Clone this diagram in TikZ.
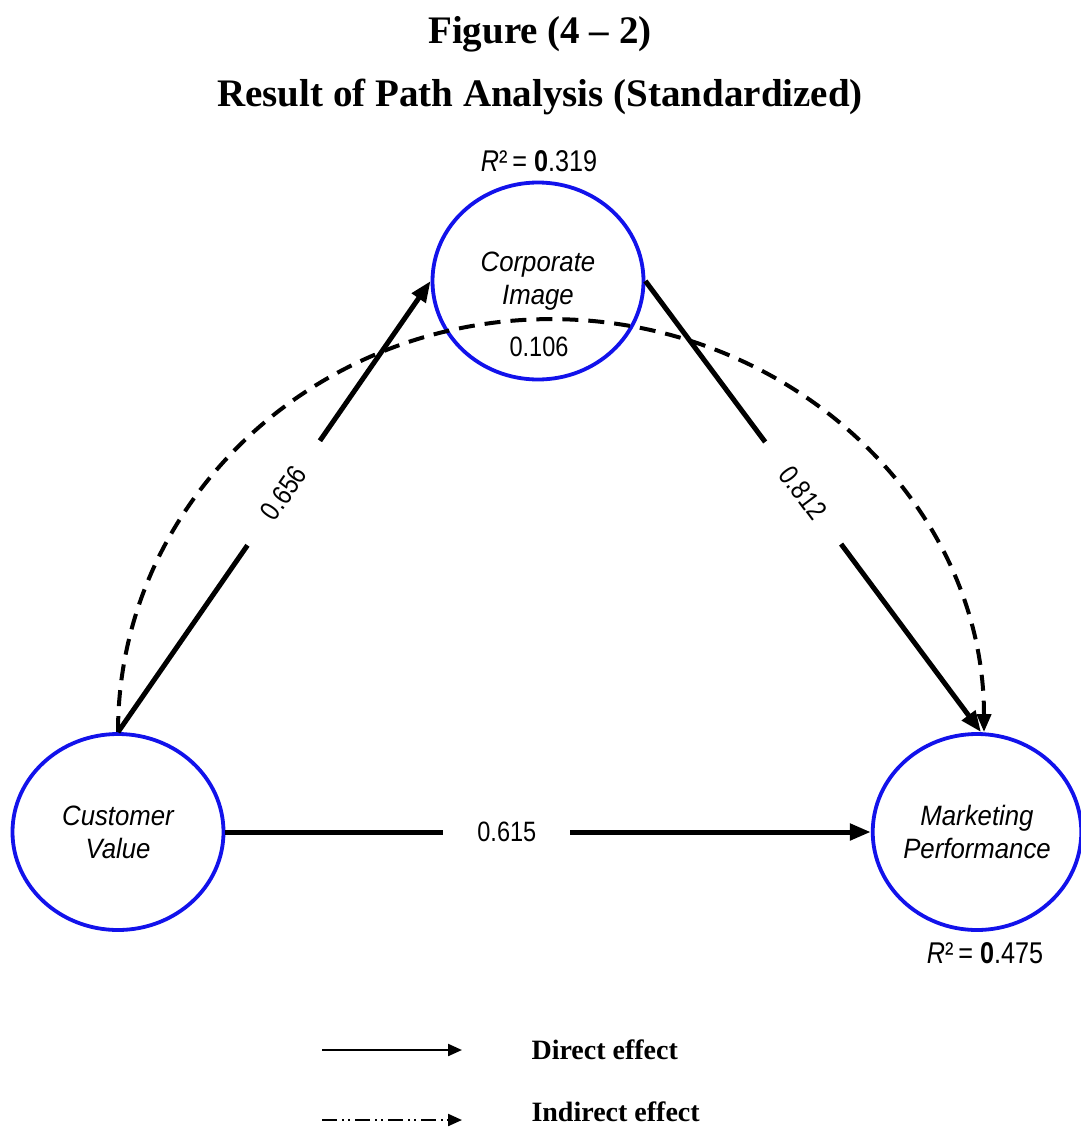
\documentclass[tikz,border=0pt]{standalone}
\usepackage{fontspec}
\setmainfont{Liberation Serif}
\newfontfamily\lblfont[FakeStretch=0.92]{Liberation Sans}
\newfontfamily\numfont[FakeStretch=0.84]{Liberation Sans}
\usetikzlibrary{shapes.geometric,arrows.meta}
\definecolor{ringblue}{RGB}{18,18,235}
\begin{document}
\begin{tikzpicture}[x=1pt,y=1pt,
  construct/.style={ellipse, draw=ringblue, line width=3.8pt, fill=white,
    inner sep=0pt, align=center,
    font=\lblfont\itshape\fontsize{28}{33}\selectfont},
  directarrow/.style={line width=5pt, -{Triangle[length=21pt,width=16pt]}},
  indirectarrow/.style={line width=4pt, dash pattern=on 16pt off 10pt,
    -{Triangle[length=18pt,width=14pt]}},
  coef/.style={fill=white, inner xsep=34pt, inner ysep=6pt, sloped,
    font=\numfont\fontsize{28}{30}\selectfont},
  plain/.style={font=\numfont\fontsize{28}{30}\selectfont},
  rsq/.style={font=\numfont\fontsize{30}{32}\selectfont},
  titletext/.style={font=\bfseries\fontsize{39}{42}\selectfont},
  legendtext/.style={anchor=west, font=\bfseries\fontsize{28}{32}\selectfont},
  legendline/.style={line width=2.2pt, -{Triangle[length=14pt,width=12pt]}}]

\useasboundingbox (0,0) rectangle (1080,-1127);
\fill[white] (0,0) rectangle (1080,-1127);

% titles
\node[titletext] (fig) at (540,-34) {Figure (4 -- 2)};
\node[titletext] (ttl) at (540,-97) {Result of Path Analysis (Standardized)};

% latent constructs
\node[construct, minimum width=211pt, minimum height=197pt] (ci) at (538,-281) {Corporate\\Image};
\node[construct, minimum width=211pt, minimum height=196pt] (cv) at (118,-832) {Customer\\Value};
\node[construct, minimum width=198pt, minimum height=196pt] (mp) at (977,-832) {Marketing\\Performance};

% explained variance and indirect coefficient
\node[rsq] (r2ci) at (539,-161) {{\itshape R}²\,= \textbf{0}.319};
\node[rsq] (r2mp) at (985,-953) {{\itshape R}²\,= \textbf{0}.475};
\node[plain] (ind) at (539,-347) {0.106};

% direct paths
\draw[directarrow] (cv.north) -- node[coef, pos=0.53] (c1) {0.656} (ci.west);
\draw[directarrow] (ci.east) -- node[coef, pos=0.47] (c2) {0.812} ([xshift=4pt]mp.north);
\draw[directarrow] (cv.east) -- node[coef, pos=0.436] (c3) {0.615} (mp.west);

% indirect path
\draw[indirectarrow] (cv.north) arc[start angle=180, end angle=0, x radius=433pt, y radius=413pt];

% legend
\coordinate (d0) at (322,-1050);
\coordinate (d1) at (462,-1050);
\coordinate (i0) at (322,-1120);
\coordinate (i1) at (462,-1120);
\draw[legendline] (d0) -- (d1);
\draw[legendline, dash pattern=on 15pt off 5pt on 2pt off 4pt on 2pt off 5pt] (i0) -- (i1);
\node[legendtext] (dlab) at (528,-1050) {Direct effect};
\node[legendtext] (ilab) at (528,-1112) {Indirect effect};
\end{tikzpicture}
\end{document}
